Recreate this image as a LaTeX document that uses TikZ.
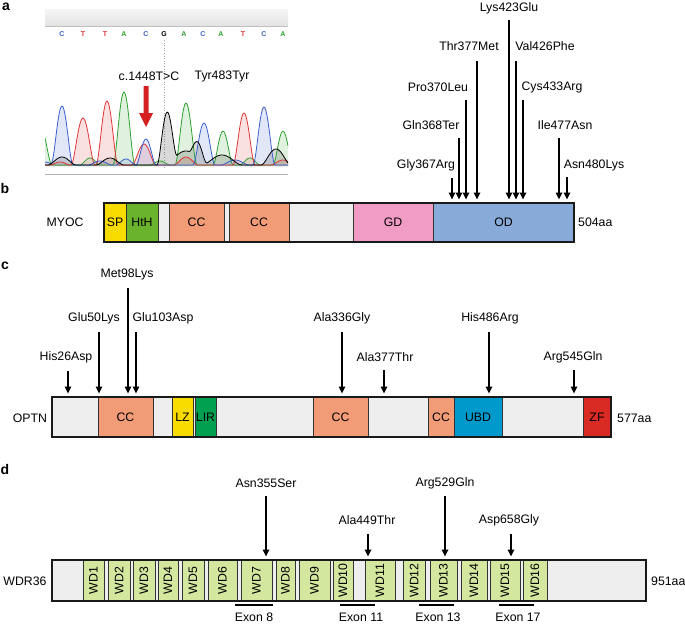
\documentclass[tikz,border=0pt]{standalone}
\usepackage{fontspec}
\setmainfont{Liberation Sans}
\usetikzlibrary{arrows.meta}
\definecolor{barbg}{HTML}{EEEEEE}
\definecolor{spY}{HTML}{F8DC00}
\definecolor{hthG}{HTML}{6AB42D}
\definecolor{ccO}{HTML}{F29B77}
\definecolor{gdP}{HTML}{F09CC4}
\definecolor{odB}{HTML}{88AAD8}
\definecolor{lirG}{HTML}{00A051}
\definecolor{ubdB}{HTML}{0099CC}
\definecolor{zfR}{HTML}{D92B24}
\definecolor{wdG}{HTML}{D4E79E}
\definecolor{trB}{HTML}{3A5FCD}
\definecolor{trR}{HTML}{E03434}
\definecolor{trG}{HTML}{2CA02C}
\definecolor{arrR}{HTML}{D42020}
\newcommand\mydom[7]{%
  \pgfmathsetmacro\dw{#3-#2}\pgfmathsetmacro\dh{#5-#4}%
  \node[dombox,fill=#6,minimum width=\dw pt,minimum height=\dh pt,anchor=north west] (#1) at (#2,#4) {#7};}
\begin{document}
\begin{tikzpicture}[x=1pt,y=-1pt,
  font=\fontsize{12.3}{14}\selectfont,
  dombox/.style={draw=black!80, line width=0.7pt, inner sep=0pt, outer sep=0pt},
  outerbar/.style={draw=black!90, line width=1.4pt},
  mut/.style={-{Triangle[length=7pt,width=6.5pt]}, line width=1.6pt},
  lab/.style={inner sep=0pt},
  plab/.style={inner sep=0pt, font=\fontsize{14}{16}\selectfont\bfseries},
  base/.style={inner sep=0pt, font=\fontsize{7}{8}\selectfont\bfseries},
  exon/.style={line width=2.4pt},
  declare function={bk(\t,\c,\w)=(max(0,1-((\t-\c)/\w)*((\t-\c)/\w)))^2;}]
\useasboundingbox (0,0) rectangle (685,624);

% ---------------- panel a ----------------
\node[plab] (la) at (6,7) {a};
\path[top color=white!96!black, bottom color=white!89!black] (45,9) rectangle (288,26);
\draw[black!25, line width=0.6pt] (45,26) -- (288,26);
\foreach \bx/\bl/\bc [count=\i] in {62/C/trB,83/T/trR,105/T/trR,124/A/trG,146/C/trB,164/G/black,184/A/trG,203/C/trB,221/A/trG,243/T/trR,264/C/trB,283/A/trG}
  \node[base, text=\bc] (base\i) at (\bx,34) {\bl};
\draw[black!35, dotted, line width=0.6pt] (164,40) -- (164,168);
\begin{scope}
\clip (45,40) rectangle (288,170);
% fills
\fill[trG, opacity=0.15] (45,166) -- plot[domain=45:288, samples=220] (\x,{165-40*bk(\x,40,12)-73*bk(\x,124,11)-62*bk(\x,186,11)-34*bk(\x,223,10)-34*bk(\x,283,10)-7*bk(\x,90,10)-4*bk(\x,160,10)-7*bk(\x,250,10)}) -- (288,166) -- cycle;
\fill[trR, opacity=0.15] (45,166) -- plot[domain=45:288, samples=220] (\x,{165-47*bk(\x,83,12)-64*bk(\x,107,11)-21*bk(\x,144,12)-52*bk(\x,244,11)-8*bk(\x,186,12)-5*bk(\x,283,12)-3*bk(\x,60,10)}) -- (288,166) -- cycle;
\fill[trB, opacity=0.15] (45,166) -- plot[domain=45:288, samples=220] (\x,{165-59*bk(\x,62,11)-26*bk(\x,146,10)-42*bk(\x,204,11)-58*bk(\x,264,11)-4*bk(\x,100,12)-6*bk(\x,126,10)-5*bk(\x,235,14)-3*bk(\x,45,10)}) -- (288,166) -- cycle;
\fill[black, opacity=0.15] (45,166) -- plot[domain=45:288, samples=220] (\x,{165-52*bk(\x,167,10)-8*bk(\x,62,14)-7*bk(\x,110,14)-16*bk(\x,198,9)-14*bk(\x,186,22)-10*bk(\x,222,20)-16*bk(\x,276,15)}) -- (288,166) -- cycle;
% traces
\draw[trG, line width=0.8pt] plot[domain=45:288, samples=220] (\x,{165-40*bk(\x,40,12)-73*bk(\x,124,11)-62*bk(\x,186,11)-34*bk(\x,223,10)-34*bk(\x,283,10)-7*bk(\x,90,10)-4*bk(\x,160,10)-7*bk(\x,250,10)});
\draw[trR, line width=0.8pt] plot[domain=45:288, samples=220] (\x,{165-47*bk(\x,83,12)-64*bk(\x,107,11)-21*bk(\x,144,12)-52*bk(\x,244,11)-8*bk(\x,186,12)-5*bk(\x,283,12)-3*bk(\x,60,10)});
\draw[trB, line width=0.8pt] plot[domain=45:288, samples=220] (\x,{165-59*bk(\x,62,11)-26*bk(\x,146,10)-42*bk(\x,204,11)-58*bk(\x,264,11)-4*bk(\x,100,12)-6*bk(\x,126,10)-5*bk(\x,235,14)-3*bk(\x,45,10)});
\draw[black, line width=0.8pt] plot[domain=45:288, samples=220] (\x,{165-52*bk(\x,167,10)-8*bk(\x,62,14)-7*bk(\x,110,14)-16*bk(\x,198,9)-14*bk(\x,186,22)-10*bk(\x,222,20)-16*bk(\x,276,15)});
\end{scope}
\draw[black!30, line width=0.9pt] (45,174) -- (288,174);
\node[lab] (mutA) at (149,76) {c.1448T>C};
\node[lab] (synA) at (222,76) {Tyr483Tyr};
\fill[arrR] (143.5,86) -- (148.5,86) -- (148.5,113) -- (153,113) -- (146,127) -- (139,113) -- (143.5,113) -- cycle;

% ---------------- panel b ----------------
\node[plab] (lb) at (5,188) {b};
\node[lab] (myocname) at (65,222) {MYOC};
\mydom{myoc}{104}{574}{203}{242}{barbg}{}
\mydom{sp}{104}{126}{203}{242}{spY}{SP}
\mydom{hth}{126}{158}{203}{242}{hthG}{HtH}
\mydom{cc1}{169}{224}{203}{242}{ccO}{CC}
\mydom{cc2}{229}{289}{203}{242}{ccO}{CC}
\mydom{gd}{353}{433}{203}{242}{gdP}{GD}
\mydom{od}{433}{574}{203}{242}{odB}{OD}
\draw[outerbar] (myoc.north west) rectangle (myoc.south east);
\node[lab, anchor=west] (myoclen) at (578,222) {504aa};
\foreach \ax/\at/\lx/\ly/\lt [count=\i] in {452/178/426/165/Gly367Arg, 459/138/431/125/Gln368Ter, 466/100/438/87/Pro370Leu, 477/61/469/46/Thr377Met, 509/20/509/8/Lys423Glu, 516/61/545/46/Val426Phe, 523/100/552/87/Cys433Arg, 559/138/565/125/Ile477Asn, 567/177/594/165/Asn480Lys}{
  \node[lab] (bl\i) at (\lx,\ly) {\lt};
  \coordinate (bs\i) at (\ax,\at);
  \coordinate (be\i) at (\ax,199.5);
  \draw[mut] (bs\i) -- (be\i);
}

% ---------------- panel c ----------------
\node[plab] (lc) at (5,266) {c};
\node[lab] (optnname) at (30,418) {OPTN};
\mydom{optn}{52}{611}{397}{437}{barbg}{}
\mydom{occ1}{98}{153}{397}{437}{ccO}{CC}
\mydom{lz}{172}{193}{397}{437}{spY}{LZ}
\mydom{lir}{195}{216}{397}{437}{lirG}{LIR}
\mydom{occ2}{313}{368}{397}{437}{ccO}{CC}
\mydom{occ3}{428}{454}{397}{437}{ccO}{CC}
\mydom{ubd}{454}{502}{397}{437}{ubdB}{UBD}
\mydom{zf}{583}{611}{397}{437}{zfR}{ZF}
\draw[outerbar] (optn.north west) rectangle (optn.south east);
\node[lab, anchor=west] (optnlen) at (617,418) {577aa};
\foreach \ax/\at/\lx/\ly/\lt [count=\i] in {68/371/66/357/His26Asp, 99/332/94/318/Glu50Lys, 128/288/127/274/Met98Lys, 136/332/163/318/Glu103Asp, 342/332/342/318/Ala336Gly, 384/370/385/357/Ala377Thr, 489/332/490/318/His486Arg, 574/370/573/357/Arg545Gln}{
  \node[lab] (cl\i) at (\lx,\ly) {\lt};
  \coordinate (cs\i) at (\ax,\at);
  \coordinate (ce\i) at (\ax,393.5);
  \draw[mut] (cs\i) -- (ce\i);
}

% ---------------- panel d ----------------
\node[plab] (ld) at (5,469) {d};
\node[lab] (wdrname) at (25,581) {WDR36};
\mydom{wdr}{52}{646}{560}{601}{barbg}{}
\foreach \xa/\xb [count=\i] in {83/104,108/130,133/155,158/178,182/204,208/237,241/272,276/295,299/330,333/353,365/395,403/425,430/457,461/487,490/520,523/547}{
  \mydom{wd\i}{\xa}{\xb}{560}{601}{wdG}{}
  \node[lab, rotate=90] (wdt\i) at (wd\i.center) {WD\i};
}
\draw[outerbar] (wdr.north west) rectangle (wdr.south east);
\node[lab, anchor=west] (wdrlen) at (651,581) {951aa};
\foreach \ax/\at/\lx/\ly/\lt [count=\i] in {266/496/266/483/Asn355Ser, 368/534/367/520/Ala449Thr, 445/496/445/483/Arg529Gln, 511/534/509/520/Asp658Gly}{
  \node[lab] (dl\i) at (\lx,\ly) {\lt};
  \coordinate (ds\i) at (\ax,\at);
  \coordinate (de\i) at (\ax,556.5);
  \draw[mut] (ds\i) -- (de\i);
}
\foreach \xa/\xb/\xt/\en [count=\i] in {235/273/254/8, 340/375/361/11, 419/454/438/13, 499/534/518/17}{
  \coordinate (ea\i) at (\xa,605);
  \coordinate (eb\i) at (\xb,605);
  \draw[exon] (ea\i) -- (eb\i);
  \node[lab] (et\i) at (\xt,617.5) {Exon \en};
}
\end{tikzpicture}
\end{document}
